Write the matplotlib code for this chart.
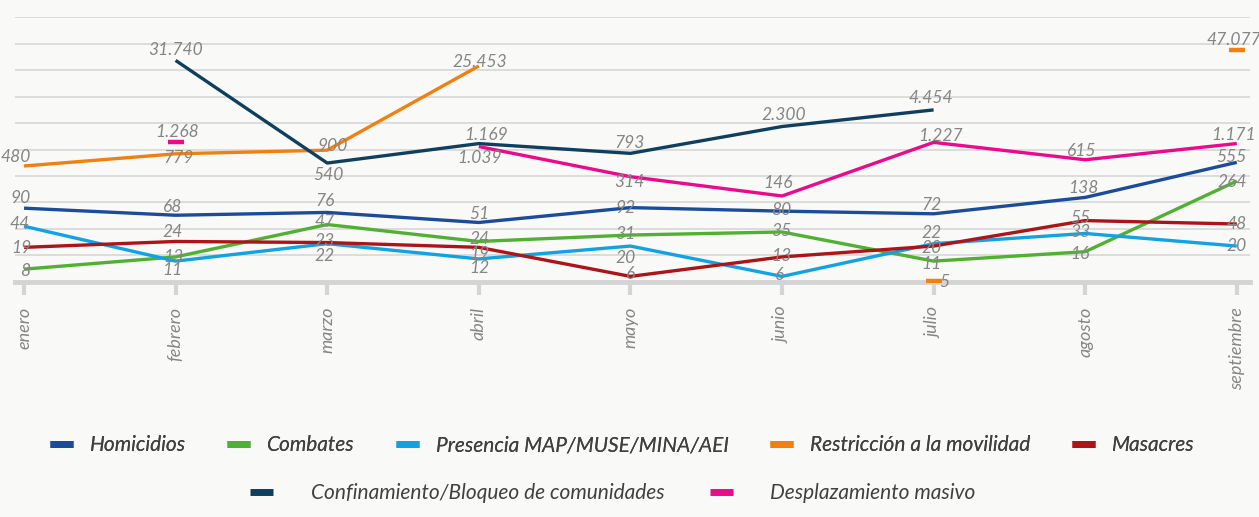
import matplotlib
matplotlib.use("Agg")
import matplotlib.pyplot as plt
from matplotlib.lines import Line2D
import numpy as np

plt.rcParams['font.family'] = ['Lato', 'DejaVu Sans']

meses = ["enero", "febrero", "marzo", "abril", "mayo", "junio", "julio", "agosto", "septiembre"]

homicidios = [90, 68, 76, 51, 92, 80, 72, 138, 555]
combates = [8, 13, 47, 24, 31, 35, 11, 16, 264]
presencia = [44, 11, 22, 12, 20, 6, 22, 33, 20]
restriccion = [480, 779, 900, 25453, None, None, 5, None, 47077]
masacres = [19, 24, 23, 19, 6, 13, 20, 55, 48]
confinamiento = [None, 31740, 540, 1169, 793, 2300, 4454, None, None]
desplazamiento = [None, 1268, None, 1039, 314, 146, 1227, 615, 1171]

nombres = ["Homicidios", "Combates", "Presencia MAP/MUSE/MINA/AEI",
           "Restricción a la movilidad", "Masacres",
           "Confinamiento/Bloqueo de comunidades", "Desplazamiento masivo"]
series = [homicidios, combates, presencia, restriccion, masacres,
          confinamiento, desplazamiento]
colores = ["#1b4b9b", "#50b034", "#12a2e4", "#f28010", "#ad1417",
           "#0f3f5f", "#ec0a8c"]

# label offsets in pixels (dx, dy), one per month
desp_etiquetas = [
    [(-3, 10), (-3, 8), (-2, 11), (1, 8), (-5, 0), (-1, 1), (-2, 9), (-2, 9), (-5, 5)],
    [(1, -2), (-2, 0), (-3, 3), (1, 2), (-5, 1), (-1, 1), (-2, -3), (-5, -2), (-5, -1)],
    [(-4, 2), (-3, -9), (-3, -12), (1, -9), (-5, -12), (-2, 1), (-2, 11), (-5, 1), (0, 0)],
    [(-8, 9), (3, -4), (5, 4), (1, 4), None, None, (11, -1), None, (-3, 10)],
    [(-3, -1), (-3, 9), (-3, 2), (1, -7), (0, 2), (-1, 1), (-2, -2), (-5, 3), (0, 0)],
    [None, (0, 10), (1, -12), (7, 9), (-1, 10), (2, 12), (-3, 12), None, None],
    [None, (2, 10), None, (1, -11), (-1, -5), (-4, 13), (7, 6), (-3, 9), (-3, 9)],
]

fondo = "#f9f9f8"
gris = "#d4d4d4"

fig = plt.figure(figsize=(12.59, 5.17), dpi=100, facecolor=fondo)
ax = fig.add_axes([15 / 1259, (517 - 281.7) / 517, (1250 - 15) / 1259, 264.4 / 517])
ax.set_facecolor(fondo)

x = np.arange(len(meses))
for datos, color, offs in zip(series, colores, desp_etiquetas):
    y = np.array([np.nan if v is None else v for v in datos], dtype=float)
    ax.plot(x, y, color=color, lw=2.4, zorder=3, solid_capstyle='butt')
    for i, v in enumerate(datos):
        if v is None:
            continue
        prev_nan = i == 0 or datos[i - 1] is None
        next_nan = i == len(datos) - 1 or datos[i + 1] is None
        if prev_nan and next_nan:
            ax.plot(i, v, marker='_', ms=11, mew=3.2, color=color, zorder=3)
        dx, dy = offs[i]
        ax.annotate(f"{v:,}".replace(",", "."), (i, v), xytext=(dx * 0.72, dy * 0.72),
                    textcoords='offset points', ha='center', va='center',
                    fontsize=12.5, fontstyle='italic',
                    color='#858585', zorder=5, annotation_clip=False)

ax.set_yscale('log')
lo, hi = 4.86, 175800
ax.set_ylim(lo, hi)
ax.set_yticks(np.geomspace(lo, hi, 11))
ax.yaxis.set_minor_locator(matplotlib.ticker.NullLocator())
ax.set_yticklabels([])
ax.tick_params(axis='y', length=0)
ax.grid(axis='y', color='#d9d9d9', lw=1.3, zorder=0)
ax.set_axisbelow(True)

ax.set_xlim((15 - 24) / 151.6, (1250 - 24) / 151.6)
ax.set_xticks(x, meses, rotation=90, fontsize=13, fontstyle='italic',
              color='#858585')
ax.tick_params(axis='x', length=9, width=3, color=gris, pad=9)

for s in ['top', 'left', 'right']:
    ax.spines[s].set_visible(False)
ax.spines['bottom'].set_color(gris)
ax.spines['bottom'].set_linewidth(3.5)
ax.spines['bottom'].set_zorder(2)

handles = [Line2D([], [], color=c, lw=5, solid_capstyle='butt') for c in colores]
estilo = dict(frameon=False, handlelength=1.1,
              prop=dict(family='Lato', style='italic', size=15), labelcolor='#404040',
              loc='center')
leg1 = fig.legend(handles[:5], nombres[:5], ncol=5, bbox_to_anchor=(622 / 1259, 0.139),
                  handletextpad=0.8, columnspacing=2.0, **estilo)
fig.add_artist(leg1)
fig.legend(handles[5:], nombres[5:], ncol=2, bbox_to_anchor=(613 / 1259, 0.046),
           handletextpad=1.8, columnspacing=2.2, **estilo)

fig.savefig("out.png", dpi=100, facecolor=fondo)
